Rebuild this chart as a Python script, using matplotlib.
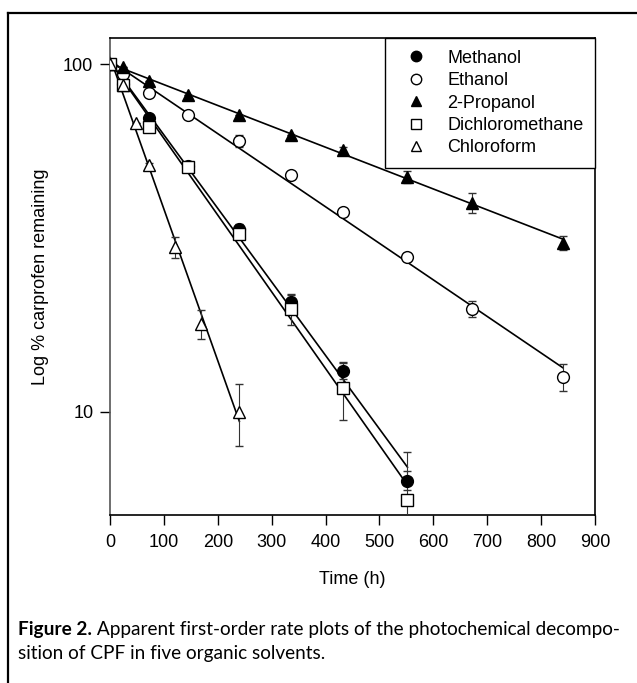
import numpy as np
import matplotlib
matplotlib.use("Agg")
import matplotlib.pyplot as plt
from matplotlib.lines import Line2D

plt.rcParams['font.family'] = ['Liberation Sans', 'DejaVu Sans']

# Percent carprofen remaining vs time (h)
t_meoh = [0, 24, 72, 144, 240, 336, 432, 552]
meoh = [100, 88, 70.2, 51.1, 33.5, 20.7, 13.1, 6.34]
meoh_err = [0, 0, 1.0, 1.0, 1.2, 1.0, 0.7, 0.4]

t_etoh = [0, 24, 72, 144, 240, 336, 432, 552, 672, 840]
etoh = [100, 94, 82.8, 71.4, 60.2, 48.0, 37.6, 27.9, 19.8, 12.6]
etoh_err = [0, 0, 0, 0, 2.4, 1.0, 0.8, 0.8, 1.0, 1.1]

t_ipa = [0, 24, 72, 144, 240, 336, 432, 552, 672, 840]
ipa = [100, 98, 89.8, 81.6, 71.6, 62.7, 56.6, 47.4, 40.0, 30.7]
ipa_err = [0, 0, 0, 0, 0, 0, 1.2, 1.9, 2.7, 1.4]

t_dcm = [0, 24, 72, 144, 240, 336, 432, 552]
dcm = [100, 87.3, 66.0, 50.6, 32.5, 19.8, 11.7, 5.56]
dcm_err = [0, 0, 0, 0, 1.0, 2.0, 2.2, 2.1]

t_chl = [0, 24, 48, 72, 120, 168, 240]
chl = [100, 87, 67.6, 51.3, 29.8, 17.9, 10.0]
chl_err = [0, 0, 0, 0.8, 2.1, 1.7, 2.0]

names = ["Methanol", "Ethanol", "2-Propanol", "Dichloromethane", "Chloroform"]
xticks = [0, 100, 200, 300, 400, 500, 600, 700, 800, 900]

series = [
    (t_meoh, meoh, meoh_err, 'o', 'black', 8.5),
    (t_etoh, etoh, etoh_err, 'o', 'white', 8.5),
    (t_ipa, ipa, ipa_err, '^', 'black', 8.5),
    (t_dcm, dcm, dcm_err, 's', 'white', 8),
    (t_chl, chl, chl_err, '^', 'white', 8.5),
]

fig = plt.figure(figsize=(6.37, 6.83), dpi=100)
ax = fig.add_axes([110/637, 1-515/683, 485/637, 477/683])

handles = []
for (t, y, e, m, fc, ms), name in zip(series, names):
    t = np.array(t, float); y = np.array(y, float)
    # first-order fit: log(y) linear in t
    k, b = np.polyfit(t, np.log10(y), 1)
    tt = np.array([t[0], t[-1]])
    ax.plot(tt, 10**(b + k*tt), color='black', lw=1.2, zorder=2)
    ax.errorbar(t, y, yerr=e, fmt='none', ecolor='#333333', elinewidth=0.8,
                capsize=3, capthick=1.0, zorder=3)
    ax.plot(t, y, ls='none', marker=m, ms=ms, mfc=fc, mec='black', mew=1.0, zorder=4)
    handles.append(Line2D([], [], ls='none', marker=m, ms=ms - 1, mfc=fc, mec='black', mew=1.0))

ax.set_yscale('log')
ax.set_xlim(0, 900)
ax.set_ylim(5.05, 119)
ax.set_xticks(xticks)
ax.set_xticklabels([str(v) for v in xticks])
ax.set_yticks([10, 100])
ax.set_yticklabels(['10', '100'])
ax.yaxis.set_minor_locator(matplotlib.ticker.NullLocator())
ax.tick_params(direction='out', length=7, width=1, labelsize=13, pad=5)
ax.tick_params(axis='x', pad=7)
for s in ax.spines.values():
    s.set_linewidth(1.2)
ax.spines['left'].set_color('#555555')

ax.set_xlabel('Time (h)', fontsize=13)
ax.set_ylabel('Log % carprofen remaining', fontsize=13)
ax.xaxis.set_label_coords(0.5, -0.118)
ax.yaxis.set_label_coords(-0.125, 0.5)

leg = ax.legend(handles, names, loc='upper right', bbox_to_anchor=(1, 1),
                borderaxespad=0, fontsize=13, frameon=True, fancybox=False,
                framealpha=1, edgecolor='black', borderpad=0.65, handlelength=2.15,
                handletextpad=0.65, labelspacing=0.3)
leg.get_frame().set_linewidth(1.0)

# page frame
fig.add_artist(Line2D([8/637, 1], [1-13/683, 1-13/683], color='black', lw=1.6))
fig.add_artist(Line2D([8/637, 8/637], [0, 1-13/683], color='black', lw=1.6))

# caption
cap_font = ['Liberation Sans Narrow', 'Lato', 'DejaVu Sans']
t1 = fig.text(18/637, 1-630/683, 'Figure 2.', fontsize=13.7, fontweight='bold',
              family=cap_font, va='center', ha='left')
ax.annotate(' Apparent first-order rate plots of the photochemical decompo-',
            xy=(1, 0), xycoords=t1, va='bottom', ha='left', fontsize=13.7,
            family=cap_font, annotation_clip=False)
fig.text(18/637, 1-654/683, 'sition of CPF in five organic solvents.', fontsize=13.7,
         family=cap_font, va='center', ha='left')

fig.savefig('out.png', dpi=100)
